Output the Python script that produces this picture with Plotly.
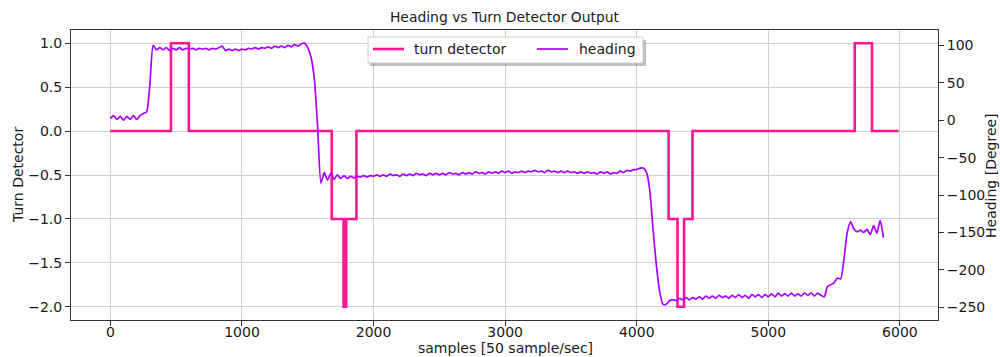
import plotly.graph_objects as go

# ---- data ----
turn_samples = [0, 460, 596, 1682, 1772, 1792, 1870, 4242, 4310, 4360, 4424, 5657, 5788, 5990]
turn_values = [0, 1, 0, -1, -2, -1, 0, -1, -2, -1, 0, 1, 0, 0]

heading_samples = list(range(0, 5900, 25))
heading_values = [
    2, 6, 1, 5, 0, 5, 1, 6, 1, 6, 9, 11, 48, 100, 94, 97, 94, 97, 93, 96,
    94, 97, 94, 96, 95, 96, 94, 96, 95, 96, 94, 96, 95, 97, 99, 93, 95, 93, 95, 93,
    95, 94, 96, 95, 97, 95, 97, 96, 98, 96, 99, 97, 99, 97, 100, 98, 101, 99, 102, 103,
    97, 84, 55, -10, -84, -70, -80, -71, -79, -73, -78, -74, -78, -75, -77, -75, -76, -74, -76, -74,
    -75, -73, -75, -73, -75, -72, -74, -73, -75, -72, -74, -72, -74, -71, -73, -72, -74, -71, -73, -71,
    -73, -71, -73, -70, -72, -71, -73, -70, -72, -70, -72, -69, -71, -70, -72, -69, -71, -69, -71, -68,
    -70, -68, -71, -69, -70, -68, -70, -68, -69, -67, -69, -68, -70, -67, -69, -68, -70, -68, -70, -68,
    -70, -69, -71, -69, -71, -69, -71, -70, -72, -69, -71, -69, -72, -70, -71, -68, -70, -67, -68, -66,
    -66, -64, -64, -70, -95, -148, -195, -230, -246, -246, -241, -240, -241, -238, -240, -237, -240, -237, -239, -236,
    -239, -235, -238, -235, -238, -234, -237, -235, -238, -234, -237, -233, -237, -234, -238, -233, -236, -233, -237, -233,
    -236, -232, -236, -231, -235, -232, -235, -231, -235, -232, -235, -231, -234, -231, -235, -231, -234, -236, -222, -220,
    -217, -211, -212, -185, -150, -136, -145, -149, -147, -150, -146, -153, -141, -151, -134, -157,
]

x_ticks = [0, 1000, 2000, 3000, 4000, 5000, 6000]
left_ticks = [1.0, 0.5, 0.0, -0.5, -1.0, -1.5, -2.0]
right_ticks = [100, 50, 0, -50, -100, -150, -200, -250]

series_names = ["turn detector", "heading"]

PINK = "#ff1493"
PURPLE = "#aa00ff"
FONT = "DejaVu Sans"
TXT = "#1a1a1a"
SPINE = "#333333"
GRID = "#d0d0d0"

# plot-area geometry in pixels (for legend / titles placement)
L, R, T, B = 71, 938, 30, 320


def px_x(p):
    return (p - L) / (R - L)


def px_y(p):
    return (B - p) / (B - T)


fig = go.Figure()
fig.add_trace(go.Scatter(
    x=turn_samples, y=turn_values, mode="lines", name=series_names[0],
    line=dict(color=PINK, width=2.6, shape="hv"), yaxis="y", showlegend=False,
))
fig.add_trace(go.Scatter(
    x=heading_samples, y=heading_values, mode="lines", name=series_names[1],
    line=dict(color=PURPLE, width=1.7, shape="spline", smoothing=0.6), yaxis="y2",
    showlegend=False,
))


def minus(v):
    return str(v).replace("-", "\u2212")


# legend (box with shadow, line samples, labels)
shapes = [
    dict(type="rect", xref="paper", yref="paper", layer="above",
         x0=px_x(370), x1=px_x(646), y0=px_y(40), y1=px_y(66),
         fillcolor="rgba(0,0,0,0.25)", line=dict(width=0)),
    dict(type="rect", xref="paper", yref="paper", layer="above",
         x0=px_x(368), x1=px_x(643), y0=px_y(37), y1=px_y(63),
         fillcolor="white", line=dict(color="#cccccc", width=1)),
    dict(type="line", xref="paper", yref="paper", layer="above",
         x0=px_x(373), x1=px_x(404), y0=px_y(49), y1=px_y(49),
         line=dict(color=PINK, width=2.6)),
    dict(type="line", xref="paper", yref="paper", layer="above",
         x0=px_x(537), x1=px_x(568), y0=px_y(49), y1=px_y(49),
         line=dict(color=PURPLE, width=1.7)),
]
annotations = [
    dict(text=series_names[0], xref="paper", yref="paper", x=px_x(412), y=px_y(49),
         xanchor="left", yanchor="middle", showarrow=False, font=dict(size=14)),
    dict(text=series_names[1], xref="paper", yref="paper", x=px_x(577), y=px_y(49),
         xanchor="left", yanchor="middle", showarrow=False, font=dict(size=14)),
    dict(text="samples [50 sample/sec]", xref="paper", yref="paper", x=px_x(505), y=px_y(348),
         xanchor="center", yanchor="middle", showarrow=False, font=dict(size=14)),
    dict(text="Turn Detector", xref="paper", yref="paper", x=px_x(18), y=0.5, textangle=-90,
         xanchor="center", yanchor="middle", showarrow=False, font=dict(size=14)),
    dict(text="Heading [Degree]", xref="paper", yref="paper", x=px_x(991), y=0.5, textangle=-90,
         xanchor="center", yanchor="middle", showarrow=False, font=dict(size=14)),
]

fig.update_layout(
    width=1000, height=357,
    margin=dict(l=L, r=1000 - R, t=T, b=357 - B, autoexpand=False),
    paper_bgcolor="white", plot_bgcolor="white",
    font=dict(family=FONT, size=14, color=TXT),
    title=dict(text="Heading vs Turn Detector Output", x=(L + R) / 2 / 1000, xanchor="center",
               y=1 - 17 / 357, yanchor="middle", font=dict(size=13.9, family=FONT, color=TXT)),
    showlegend=False,
    shapes=shapes,
    annotations=annotations,
    xaxis=dict(range=[-299.5, 6289.5], tickvals=x_ticks, ticktext=[str(v) for v in x_ticks],
               showgrid=True, gridcolor=GRID, gridwidth=1, zeroline=False,
               showline=True, linecolor=SPINE, linewidth=1, mirror=True,
               ticks="outside", ticklen=5, tickcolor=SPINE, ticklabelstandoff=-6,
               automargin=False),
    yaxis=dict(range=[-2.15, 1.15], tickvals=left_ticks, ticktext=[minus(f"{v:.1f}") for v in left_ticks],
               showgrid=True, gridcolor=GRID, gridwidth=1, zeroline=False,
               showline=True, linecolor=SPINE, linewidth=1, mirror=True,
               ticks="outside", ticklen=5, tickcolor=SPINE,
               automargin=False),
    yaxis2=dict(range=[-267, 120.5], tickvals=right_ticks, ticktext=[minus(v) for v in right_ticks],
                overlaying="y", side="right", showgrid=False, zeroline=False,
                showline=True, linecolor=SPINE, linewidth=1,
                ticks="outside", ticklen=5, tickcolor=SPINE,
                automargin=False),
)

fig.write_html("out.html")
